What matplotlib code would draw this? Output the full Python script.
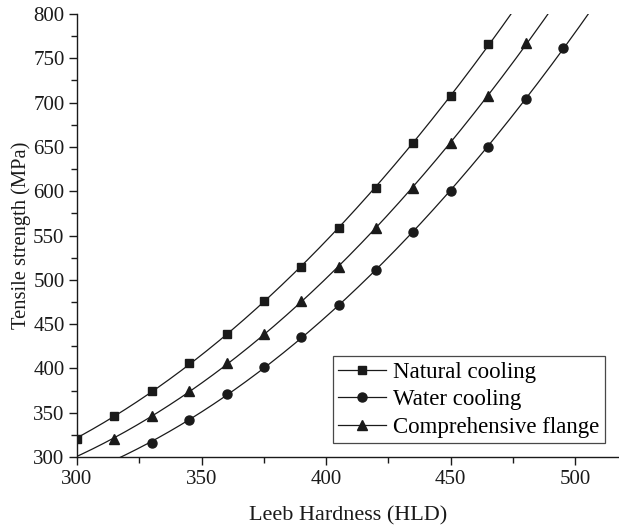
import numpy as np
import matplotlib
matplotlib.use("Agg")
import matplotlib.pyplot as plt
from matplotlib.ticker import MultipleLocator

plt.rcParams['font.family'] = ['Liberation Serif', 'DejaVu Serif']
plt.rcParams['mathtext.fontset'] = 'stix'

# Data
x_natural = [300, 315, 330, 345, 360, 375, 390, 405, 420, 435, 450, 465]
y_natural = [320, 346, 375, 406, 439, 476, 515, 558, 604, 654, 708, 766]
x_water = [330, 345, 360, 375, 390, 405, 420, 435, 450, 465, 480, 495]
y_water = [316, 342, 371, 402, 435, 472, 511, 554, 600, 650, 704, 762]
x_comp = [315, 330, 345, 360, 375, 390, 405, 420, 435, 450, 465, 480]
y_comp = [320, 346, 375, 406, 439, 476, 515, 558, 604, 654, 708, 767]

labels = ['Natural cooling', 'Water cooling', 'Comprehensive flange']
markers = ['s', 'o', '^']
msizes = [6.2, 6.5, 7.8]

fig = plt.figure(figsize=(6.19, 5.29), dpi=100)
ax = fig.add_axes([0.1244, 0.136, 0.8756, 0.8375])

col = '#1a1a1a'
xfit = np.linspace(280, 530, 400)
for xs, ys, lab, m, ms in zip([x_natural, x_water, x_comp], [y_natural, y_water, y_comp], labels, markers, msizes):
    c = np.polyfit(xs, ys, 2)
    ax.plot(xfit, np.polyval(c, xfit), '-', color=col, lw=0.9, zorder=2)
    ax.plot(xs, ys, linestyle='none', marker=m, color=col, ms=ms, zorder=3)
    ax.plot([], [], '-', marker=m, color=col, lw=0.9, ms=ms, label=lab)

ax.set_xlim(300, 517.5)
ax.set_ylim(300, 800)
ax.xaxis.set_major_locator(MultipleLocator(50))
ax.xaxis.set_minor_locator(MultipleLocator(25))
ax.yaxis.set_major_locator(MultipleLocator(50))
ax.yaxis.set_minor_locator(MultipleLocator(25))
for s in ['top', 'right']:
    ax.spines[s].set_visible(False)
for s in ['left', 'bottom']:
    ax.spines[s].set_linewidth(1.0)
    ax.spines[s].set_color(col)
ax.tick_params(which='major', direction='out', length=6, width=1.0, labelsize=15, colors=col, pad=3)
ax.tick_params(which='minor', direction='out', length=4, width=1.0, colors=col)
ax.set_xlabel('Leeb Hardness (HLD)', fontsize=16, color=col, labelpad=13)
ax.set_ylabel('Tensile strength (MPa)', fontsize=14.8, color=col, labelpad=1.5)

leg = ax.legend(loc='lower right', fontsize=16.5, frameon=True, fancybox=False,
                edgecolor=col, handlelength=2.1, borderaxespad=0.6,
                labelspacing=0.28, handletextpad=0.3, borderpad=0.25)
leg.get_frame().set_linewidth(0.9)

fig.savefig('out.png', dpi=100)
